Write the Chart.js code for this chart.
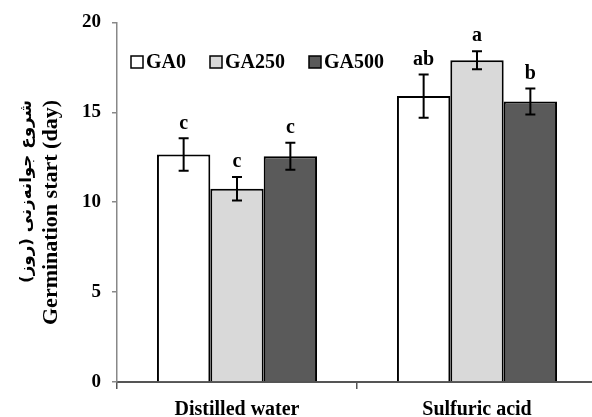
<!DOCTYPE html>
<html lang="en">
<head>
    <meta charset="UTF-8">
    <title>Germination start</title>
    <script src="https://cdn.jsdelivr.net/npm/chart.js"></script>
    <style>
        html, body {
            margin: 0;
            padding: 0;
            background: white;
            overflow: hidden;
        }
        .wrap {
            width: 600px;
            height: 417px;
        }
    </style>
</head>
<body>
    <div class="wrap">
        <canvas id="chart" width="600" height="417"></canvas>
    </div>

    <script>
        // data
        const categories = ['Distilled water', 'Sulfuric acid'];
        const seriesNames = ['GA0', 'GA250', 'GA500'];
        const ga0 = [12.65, 15.9];
        const ga250 = [10.75, 17.9];
        const ga500 = [12.55, 15.6];
        const err0 = [0.9, 1.2];
        const err250 = [0.65, 0.5];
        const err500 = [0.75, 0.72];
        const letters0 = ['c', 'ab'];
        const letters250 = ['c', 'a'];
        const letters500 = ['c', 'b'];
        const yTicks = [0, 5, 10, 15, 20];
        const titleEn = 'Germination start (day)';
        const titleFa = 'شروع جوانه‌زنی (روز)';

        const fills = ['#ffffff', '#d9d9d9', '#5a5a5a'];
        const errs = [err0, err250, err500];
        const letters = [letters0, letters250, letters500];
        const serif = '"Liberation Serif", "Times New Roman", serif';

        // error bars + letters
        const errorBars = {
            id: 'errorBars',
            afterDatasetsDraw(chart) {
                const ctx = chart.ctx;
                const y = chart.scales.y;
                ctx.save();
                ctx.strokeStyle = '#000';
                ctx.lineWidth = 2;
                ctx.fillStyle = '#000';
                ctx.font = 'bold 20px ' + serif;
                ctx.textAlign = 'center';
                ctx.textBaseline = 'bottom';
                chart.data.datasets.forEach((ds, i) => {
                    chart.getDatasetMeta(i).data.forEach((bar, j) => {
                        const v = ds.data[j];
                        const e = errs[i][j];
                        const top = y.getPixelForValue(v + e);
                        const bot = y.getPixelForValue(v - e);
                        ctx.beginPath();
                        ctx.moveTo(bar.x, top); ctx.lineTo(bar.x, bot);
                        ctx.moveTo(bar.x - 5, top); ctx.lineTo(bar.x + 5, top);
                        ctx.moveTo(bar.x - 5, bot); ctx.lineTo(bar.x + 5, bot);
                        ctx.stroke();
                        ctx.fillText(letters[i][j], bar.x, top - 5);
                    });
                });
                ctx.restore();
            }
        };

        // legend inside the plot + two-line y title
        const extras = {
            id: 'extras',
            afterDraw(chart) {
                const ctx = chart.ctx;
                ctx.save();
                ctx.font = 'bold 20px ' + serif;
                ctx.textBaseline = 'middle';
                ctx.textAlign = 'left';
                let x = 131;
                const ly = 62;
                chart.data.datasets.forEach((ds, i) => {
                    ctx.fillStyle = ds.backgroundColor;
                    ctx.fillRect(x, ly - 6, 12, 12);
                    ctx.strokeStyle = '#000';
                    ctx.lineWidth = 1.5;
                    ctx.strokeRect(x, ly - 6, 12, 12);
                    ctx.fillStyle = '#000';
                    ctx.fillText(ds.label, x + 15, ly + 1);
                    x += 15 + ctx.measureText(ds.label).width + 24;
                });

                const drawRot = (text, cx, topY, len, font) => {
                    ctx.save();
                    ctx.font = font;
                    ctx.translate(cx, topY);
                    ctx.rotate(-Math.PI / 2);
                    const w = ctx.measureText(text).width;
                    ctx.scale(len / w, 1);
                    ctx.textAlign = 'right';
                    ctx.textBaseline = 'middle';
                    ctx.fillStyle = '#000';
                    ctx.fillText(text, 0, 0);
                    ctx.restore();
                };
                drawRot(titleFa, 27, 100, 183, 'bold 16px "DejaVu Sans", sans-serif');
                drawRot(titleEn, 52, 100, 225, 'bold 21px ' + serif);
                ctx.restore();
            }
        };

        new Chart(document.getElementById('chart'), {
            type: 'bar',
            data: {
                labels: categories,
                datasets: [
                    { label: seriesNames[0], data: ga0, backgroundColor: fills[0] },
                    { label: seriesNames[1], data: ga250, backgroundColor: fills[1] },
                    { label: seriesNames[2], data: ga500, backgroundColor: fills[2] }
                ].map(d => Object.assign(d, {
                    borderColor: '#000',
                    borderWidth: 2,
                    borderSkipped: 'bottom',
                    categoryPercentage: 0.667,
                    barPercentage: 1
                }))
            },
            options: {
                responsive: false,
                animation: false,
                layout: { padding: { top: 19, right: 3, left: 0, bottom: 0 } },
                plugins: {
                    legend: { display: false },
                    tooltip: { enabled: false }
                },
                scales: {
                    x: {
                        grid: { drawOnChartArea: false, tickLength: 7, color: '#555', lineWidth: 1.5, offset: true },
                        border: { color: '#555', width: 2 },
                        ticks: { color: '#000', font: { family: serif, size: 20, weight: 'bold' }, padding: 9 },
                        afterFit(s) { s.height = 35; }
                    },
                    y: {
                        min: 0,
                        max: 20,
                        afterBuildTicks(s) { s.ticks = yTicks.map(v => ({ value: v })); },
                        grid: { drawOnChartArea: false, tickLength: 5, color: '#888', lineWidth: 1.5 },
                        border: { color: '#888', width: 1.5 },
                        ticks: { color: '#000', font: { family: serif, size: 19, weight: 'bold' }, padding: 11 },
                        afterFit(s) { s.width = 117; }
                    }
                }
            },
            plugins: [errorBars, extras]
        });
    </script>
</body>
</html>
